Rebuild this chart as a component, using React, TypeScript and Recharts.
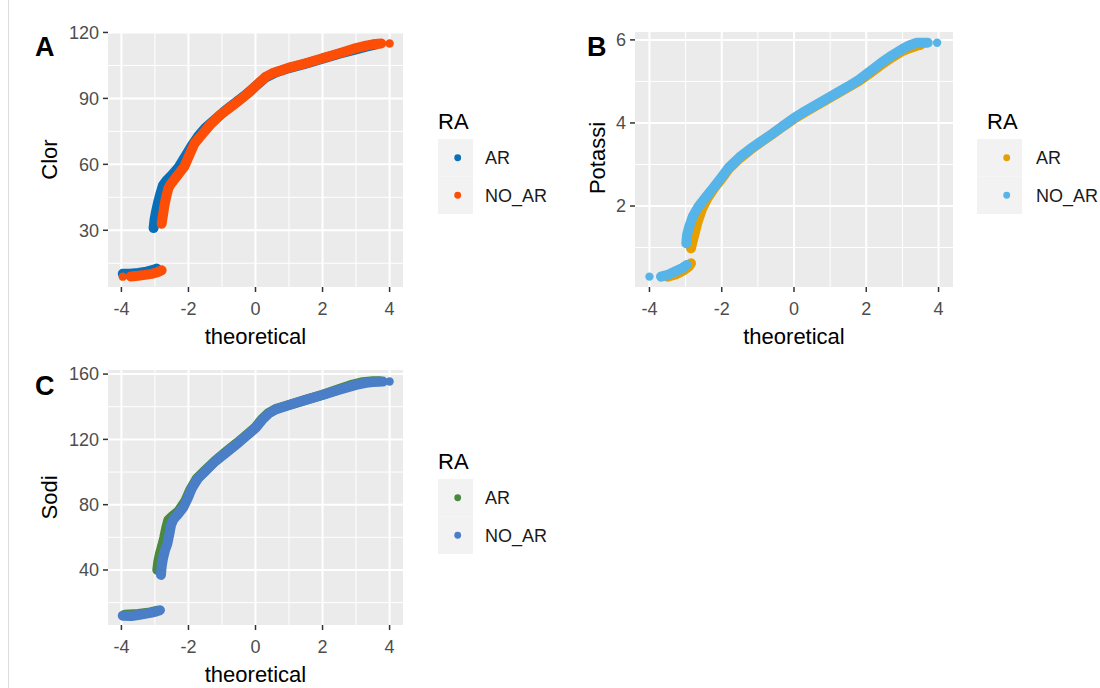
import { ScatterChart, Scatter, XAxis, YAxis, CartesianGrid } from "recharts";

type Pt = [number, number];

// Clor QQ points (theoretical, sample)
const clorArLow: Pt[] = [[-3.96, 10.2], [-3.75, 10.2], [-3.5, 10.6], [-3.25, 11.2], [-3.05, 12.0], [-2.95, 12.6]];
const clorAr: Pt[] = [
  [-3.04, 31], [-3.01, 35], [-2.96, 39], [-2.9, 43], [-2.83, 47], [-2.76, 50.5], [-2.66, 52.5], [-2.5, 55],
  [-2.3, 58.5], [-2.1, 63.5], [-1.9, 68.5], [-1.7, 73], [-1.5, 76.5], [-1.2, 80.5], [-0.9, 84.5], [-0.6, 88],
  [-0.3, 91.5], [0, 95.5], [0.3, 99.5], [0.6, 101.8], [1.0, 103.8], [1.5, 105.8], [2.0, 108.0], [2.5, 110.3],
  [3.0, 112.3], [3.3, 113.5], [3.6, 114.6],
];
const clorNoArLow: Pt[] = [[-3.72, 9.0], [-3.5, 9.3], [-3.3, 9.7], [-3.1, 10.2], [-2.95, 10.8], [-2.85, 11.4], [-2.8, 11.8]];
const clorNoAr: Pt[] = [
  [-2.8, 33], [-2.76, 37], [-2.72, 41], [-2.66, 45.5], [-2.6, 49], [-2.53, 51], [-2.45, 52.5], [-2.3, 55.5],
  [-2.12, 59], [-1.95, 65], [-1.82, 69.5], [-1.6, 73.5], [-1.35, 78], [-1.05, 82.5], [-0.75, 86], [-0.45, 89.5],
  [-0.15, 93.3], [0.1, 97], [0.3, 99.8], [0.5, 101.4], [0.8, 102.9], [1.0, 104], [1.3, 105.2], [1.6, 106.4],
  [2.0, 108.3], [2.3, 109.6], [2.6, 111], [3.0, 112.9], [3.3, 114], [3.5, 114.6], [3.75, 115],
];
const clorNoArEnds: Pt[] = [[-3.96, 8.9], [4.0, 115]];

// Potassi QQ points
const potArLow: Pt[] = [[-3.5, 0.3], [-3.25, 0.36], [-3.05, 0.45], [-2.9, 0.55], [-2.85, 0.62]];
const potAr: Pt[] = [
  [-2.85, 0.98], [-2.82, 1.1], [-2.76, 1.3], [-2.68, 1.58], [-2.55, 1.92], [-2.4, 2.18], [-2.2, 2.44],
  [-2.0, 2.66], [-1.8, 2.9], [-1.5, 3.15], [-1.2, 3.36], [-0.9, 3.55], [-0.6, 3.73], [-0.3, 3.92], [0, 4.1],
  [0.3, 4.26], [0.6, 4.41], [0.9, 4.56], [1.2, 4.71], [1.5, 4.86], [1.8, 5.01], [2.1, 5.2], [2.4, 5.39],
  [2.7, 5.57], [3.0, 5.73], [3.2, 5.8], [3.4, 5.86], [3.5, 5.88],
];
const potNoArLow: Pt[] = [[-3.68, 0.3], [-3.5, 0.34], [-3.3, 0.42], [-3.1, 0.5], [-2.97, 0.58]];
const potNoAr: Pt[] = [
  [-2.98, 1.1], [-2.96, 1.3], [-2.9, 1.5], [-2.8, 1.75], [-2.65, 1.98], [-2.45, 2.2], [-2.25, 2.42],
  [-2.0, 2.7], [-1.8, 2.93], [-1.5, 3.18], [-1.2, 3.38], [-0.9, 3.56], [-0.6, 3.74], [-0.3, 3.93], [0, 4.12],
  [0.3, 4.28], [0.6, 4.43], [0.9, 4.58], [1.2, 4.73], [1.5, 4.88], [1.8, 5.04], [2.1, 5.24], [2.4, 5.44],
  [2.7, 5.62], [3.0, 5.78], [3.2, 5.87], [3.4, 5.93], [3.7, 5.93],
];
const potNoArEnds: Pt[] = [[-4.0, 0.3], [3.96, 5.93]];

// Sodi QQ points
const sodiArLow: Pt[] = [[-3.9, 12.6], [-3.5, 13], [-3.2, 13.8], [-2.95, 15]];
const sodiAr: Pt[] = [
  [-2.93, 40], [-2.9, 45], [-2.85, 50], [-2.78, 55], [-2.72, 60], [-2.66, 66], [-2.6, 70.5], [-2.5, 72.5],
  [-2.3, 76], [-2.1, 82], [-1.95, 89], [-1.75, 96], [-1.5, 101], [-1.2, 106.8], [-0.9, 112], [-0.55, 117.8],
  [-0.25, 123], [0, 127.5], [0.2, 132.5], [0.4, 136.3], [0.6, 138.6], [1.0, 141.1], [1.5, 144.3], [2.0, 147.3],
  [2.5, 150.8], [2.9, 153.6], [3.2, 155], [3.5, 155.6], [3.7, 155.6],
];
const sodiNoArLow: Pt[] = [[-3.96, 12], [-3.7, 11.8], [-3.5, 12.4], [-3.3, 13.1], [-3.1, 13.9], [-2.95, 14.7], [-2.85, 15.4]];
const sodiNoAr: Pt[] = [
  [-2.82, 37], [-2.8, 42], [-2.76, 47], [-2.7, 52], [-2.63, 56], [-2.57, 62], [-2.52, 67.5], [-2.45, 71],
  [-2.3, 74.5], [-2.15, 78.5], [-2.02, 84], [-1.9, 90], [-1.72, 96], [-1.5, 100.5], [-1.22, 106.3], [-0.9, 111.5],
  [-0.55, 117.3], [-0.25, 122.5], [0, 127], [0.2, 132], [0.4, 136], [0.6, 138.3], [1.0, 141], [1.5, 144.2],
  [2.0, 147.2], [2.5, 150.4], [3.0, 153.4], [3.3, 154.7], [3.5, 155.2], [3.8, 155.4],
];
const sodiNoArEnds: Pt[] = [[4.0, 155.5]];

const xTicks = [-4, -2, 0, 2, 4];
const xMinor = [-3, -1, 1, 3];
const groupNames = ["AR", "NO_AR"];

const FONT = '"Liberation Sans", Arial, Helvetica, sans-serif';

interface Group { name: string; color: string; runs: Pt[][]; dots: Pt[] }
interface Panel {
  left: number; top: number; width: number; height: number;
  margin: { top: number; right: number; bottom: number; left: number };
  yDomain: [number, number]; yTicks: number[]; yMinor: number[];
  groups: Group[];
}

const panels: Panel[] = [
  {
    left: 0, top: 0, width: 430, height: 350,
    margin: { top: 32, right: 27, bottom: 23, left: 58 },
    yDomain: [4.2, 120.2], yTicks: [30, 60, 90, 120], yMinor: [15, 45, 75, 105],
    groups: [
      { name: groupNames[0], color: "#0A6FB8", runs: [clorArLow, clorAr], dots: [] },
      { name: groupNames[1], color: "#FC4E07", runs: [clorNoArLow, clorNoAr], dots: clorNoArEnds },
    ],
  },
  {
    left: 540, top: 0, width: 430, height: 350,
    margin: { top: 32, right: 17, bottom: 23, left: 45 },
    yDomain: [0.05, 6.19], yTicks: [2, 4, 6], yMinor: [1, 3, 5],
    groups: [
      { name: groupNames[0], color: "#E69F00", runs: [potArLow, potAr], dots: [] },
      { name: groupNames[1], color: "#56B4E9", runs: [potNoArLow, potNoAr], dots: potNoArEnds },
    ],
  },
  {
    left: 0, top: 340, width: 430, height: 348,
    margin: { top: 30, right: 27, bottom: 23, left: 58 },
    yDomain: [6.3, 162.5], yTicks: [40, 80, 120, 160], yMinor: [20, 60, 100, 140],
    groups: [
      { name: groupNames[0], color: "#4A8A3E", runs: [sodiArLow, sodiAr], dots: [] },
      { name: groupNames[1], color: "#4A7EC7", runs: [sodiNoArLow, sodiNoAr], dots: sodiNoArEnds },
    ],
  },
];

const toRows = (pts: Pt[]) => pts.map(([x, y]) => ({ x, y }));

const dot = (color: string) => (p: any) => <circle cx={p.cx} cy={p.cy} r={4.2} fill={color} />;

function QQPanel({ p }: { p: Panel }) {
  const series: JSX.Element[] = [];
  p.groups.forEach((g, gi) => {
    g.runs.forEach((run, ri) => {
      series.push(
        <Scatter
          key={`${gi}-r${ri}`}
          data={toRows(run)}
          fill={g.color}
          shape={dot(g.color)}
          line={{ stroke: g.color, strokeWidth: 10, strokeLinecap: "round", strokeLinejoin: "round" }}
          isAnimationActive={false}
        />
      );
    });
    if (g.dots.length) {
      series.push(
        <Scatter key={`${gi}-d`} data={toRows(g.dots)} fill={g.color} shape={dot(g.color)} isAnimationActive={false} />
      );
    }
  });

  return (
    <div style={{ position: "absolute", left: p.left, top: p.top }}>
      <ScatterChart width={p.width} height={p.height} margin={p.margin}>
        <CartesianGrid fill="#EBEBEB" stroke="#FFFFFF" strokeWidth={1} horizontalValues={p.yMinor} verticalValues={xMinor} />
        <CartesianGrid stroke="#FFFFFF" strokeWidth={2} horizontalValues={p.yTicks} verticalValues={xTicks} />
        <XAxis
          type="number" dataKey="x" domain={[-4.4, 4.4]} ticks={xTicks} allowDataOverflow
          axisLine={false} tickLine={{ stroke: "#333333", strokeWidth: 1.5 }} tickSize={5} tickMargin={10}
          tick={{ fontSize: 18, fill: "#4D4D4D" }} height={40}
        />
        <YAxis
          type="number" dataKey="y" domain={p.yDomain} ticks={p.yTicks} allowDataOverflow
          axisLine={false} tickLine={{ stroke: "#333333", strokeWidth: 1.5 }} tickSize={5} tickMargin={4}
          tick={{ fontSize: 18, fill: "#4D4D4D" }} width={50}
        />
        {series}
      </ScatterChart>
    </div>
  );
}

// legend boxes beside each panel
const legends = [
  { title: { x: 438, y: 129 }, keyX: 438, keyW: 35, keyY: 139, dotX: 457.7, labelX: 485, colors: ["#0A6FB8", "#FC4E07"] },
  { title: { x: 987, y: 129 }, keyX: 977, keyW: 45, keyY: 139, dotX: 1006.7, labelX: 1036, colors: ["#E69F00", "#56B4E9"] },
  { title: { x: 438, y: 469 }, keyX: 438, keyW: 35, keyY: 479, dotX: 457.7, labelX: 485, colors: ["#4A8A3E", "#4A7EC7"] },
];

export default function App() {
  const keyH = 37.5;
  return (
    <div style={{ position: "absolute", left: 0, top: 0, width: 1100, height: 688, background: "#FFFFFF", fontFamily: FONT }}>
      <div style={{ position: "absolute", left: 8, top: 0, width: 1, height: 688, background: "#DCDCDC" }} />
      {panels.map((p, i) => <QQPanel key={i} p={p} />)}
      <svg width={1100} height={688} style={{ position: "absolute", left: 0, top: 0, pointerEvents: "none" }} fontFamily={FONT}>
        <text x={35} y={56} fontSize={27} fontWeight="bold" fill="#000">A</text>
        <text x={587} y={56} fontSize={27} fontWeight="bold" fill="#000">B</text>
        <text x={35} y={395} fontSize={27} fontWeight="bold" fill="#000">C</text>

        <text transform="translate(57,159.5) rotate(-90)" textAnchor="middle" fontSize={22} fill="#000">Clor</text>
        <text transform="translate(605,158) rotate(-90)" textAnchor="middle" fontSize={22} fill="#000">Potassi</text>
        <text transform="translate(57,497.5) rotate(-90)" textAnchor="middle" fontSize={22} fill="#000">Sodi</text>

        <text x={255.5} y={344} textAnchor="middle" fontSize={22} fill="#000">theoretical</text>
        <text x={794} y={344} textAnchor="middle" fontSize={22} fill="#000">theoretical</text>
        <text x={255.5} y={682} textAnchor="middle" fontSize={22} fill="#000">theoretical</text>

        {legends.map((l, i) => (
          <g key={i}>
            <text x={l.title.x} y={l.title.y} fontSize={22} fill="#000">RA</text>
            {groupNames.map((name, j) => {
              const cy = l.keyY + keyH * j + keyH / 2;
              return (
                <g key={name}>
                  <rect x={l.keyX} y={l.keyY + keyH * j} width={l.keyW} height={keyH} fill="#F2F2F2" />
                  <circle cx={l.dotX} cy={cy} r={3.4} fill={l.colors[j]} />
                  <text x={l.labelX} y={cy + 6.4} fontSize={18} fill="#1A1A1A">{name}</text>
                </g>
              );
            })}
          </g>
        ))}
      </svg>
    </div>
  );
}
